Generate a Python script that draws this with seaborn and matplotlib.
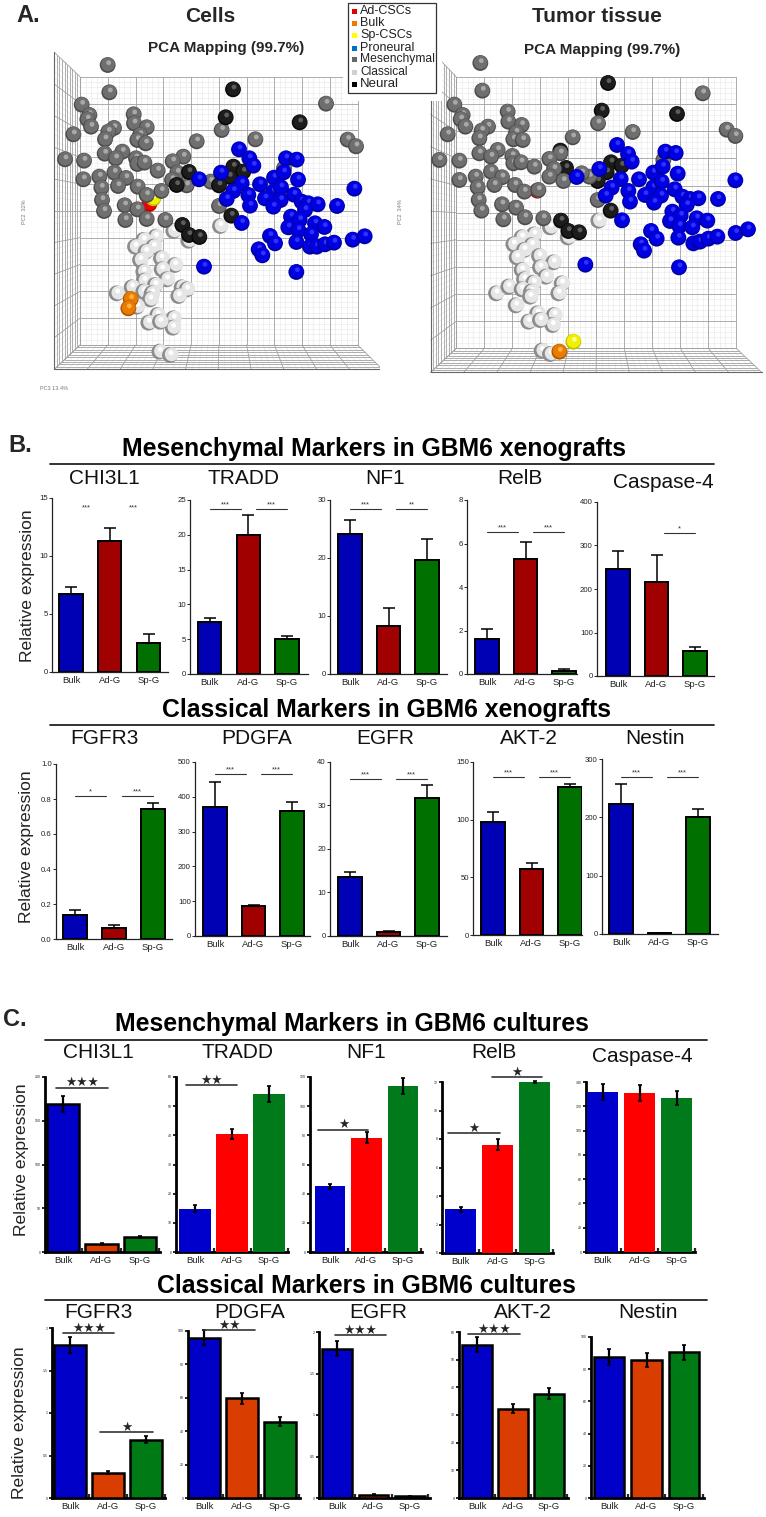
import numpy as np
import pandas as pd
import matplotlib
matplotlib.use("Agg")
import matplotlib.pyplot as plt
from matplotlib.patches import Rectangle
import seaborn as sns

W, H = 766, 1517
GROUPS = ["Bulk", "Ad-G", "Sp-G"]

# --- PCA maps ---
cells_mes_x = [323,328,245,268,262,273,220,342,325,401,402,440,420,315,412,437,590,665,314,367,195,252,347,408,412,433,550,518,473,343,298,250,378,532,516,304,354,413,560,484,440,306,374,412,312,376,440,496,657,632,766,978,1043,1068,852]
cells_mes_y = [195,277,314,345,358,380,403,384,395,343,370,382,405,418,420,430,424,390,461,455,478,482,475,475,492,488,470,484,512,518,530,538,534,518,540,563,558,560,556,573,585,600,616,628,633,660,657,660,618,545,418,311,419,439,505]
cells_neu_x = [699,677,899,567,700,730,688,657,530,694,547,567,598]
cells_neu_y = [268,352,367,516,500,515,530,556,555,647,675,705,711]
cells_pro_x = [717,748,760,858,890,663,597,725,780,822,851,894,1063,700,680,745,750,820,843,795,842,820,882,905,925,953,1011,915,873,899,865,895,945,973,933,725,810,825,889,930,950,975,1002,1058,1094,776,787,612,889]
cells_pro_y = [448,475,497,475,479,518,538,550,553,533,517,539,566,573,597,585,617,575,562,595,600,620,584,605,610,613,618,630,650,660,682,690,670,681,703,669,708,730,726,740,740,733,728,719,709,748,766,800,816]
cells_cla_x = [660,520,565,467,430,405,460,437,420,483,524,430,485,432,500,465,350,395,430,455,545,560,535,450,410,472,445,520,518,480,478,510]
cells_cla_y = [678,693,722,710,720,740,740,755,780,775,795,815,808,842,838,855,880,862,875,880,862,868,888,898,920,945,968,955,983,965,1055,1065]
cells_bulk_x, cells_bulk_y = [392,385], [897,925]
cells_ad_x, cells_ad_y = [448], [612]
cells_sp_x, cells_sp_y = [460], [595]

tumor_mes_x = [301,307,223,248,242,256,203,324,305,383,385,425,408,298,400,428,578,654,298,353,178,238,333,397,400,423,541,508,463,333,287,238,366,522,508,293,343,405,550,433,296,366,408,304,370,435,490,653,628,758,968,1040,1066,850,605,475]
tumor_mes_y = [189,272,314,345,358,380,403,380,392,335,365,375,398,415,418,420,412,370,460,450,480,482,470,468,490,487,460,477,500,515,530,540,532,507,530,562,555,555,543,575,600,613,623,632,658,652,655,600,530,396,280,389,408,480,520,570]
tumor_neu_x = [684,665,891,558,693,725,680,653,541,692,543,565,597]
tumor_neu_y = [249,332,342,504,487,497,517,543,452,632,662,693,697]
tumor_pro_x = [711,744,755,856,887,658,590,722,777,820,848,893,1066,695,677,745,750,820,845,795,843,822,884,907,930,955,1014,920,877,902,870,898,950,982,937,726,813,830,895,940,960,985,1012,1067,1104,782,792,616,897]
tumor_pro_y = [435,462,485,455,459,507,531,537,538,518,500,521,541,563,587,573,605,562,545,585,587,608,568,590,597,595,597,615,635,647,663,678,655,662,682,661,693,716,713,730,725,716,710,699,688,733,752,794,802]
tumor_cla_x = [655,510,563,462,425,400,455,432,410,477,520,425,480,432,497,460,348,385,425,453,545,535,450,407,472,445,522,517,485,510,480]
tumor_cla_y = [662,682,712,703,712,733,735,750,772,768,787,810,802,838,830,848,880,860,868,875,850,880,890,916,940,965,945,975,1052,1062,960]
tumor_bulk_x, tumor_bulk_y = [538], [1055]
tumor_ad_x, tumor_ad_y = [472], [572]
tumor_sp_x, tumor_sp_y = [580], [1025]

LEGEND_NAMES = ["Ad-CSCs", "Bulk", "Sp-CSCs", "Proneural", "Mesenchymal", "Classical", "Neural"]

# --- bar values: [Bulk, Ad-G, Sp-G] and upper end of the error bar ---
xeno_mes_genes = ["CHI3L1", "TRADD", "NF1", "RelB", "Caspase-4"]
xeno_mes_vals = [[6.7, 11.3, 2.5], [7.5, 20, 5], [24.2, 8.2, 19.7], [1.6, 5.3, 0.15], [245, 215, 57]]
xeno_mes_tops = [[7.3, 12.4, 3.3], [8, 22.8, 5.4], [26.6, 11.3, 23.2], [2.05, 6.05, 0.25], [288, 279, 66]]
xeno_mes_ymax = [15, 25, 30, 8, 400]
xeno_mes_step = [5, 5, 10, 2, 100]

xeno_cla_genes = ["FGFR3", "PDGFA", "EGFR", "AKT-2", "Nestin"]
xeno_cla_vals = [[0.14, 0.065, 0.745], [370, 85, 360], [13.6, 1, 31.7], [98, 57, 128], [223, 1.5, 200]]
xeno_cla_tops = [[0.167, 0.078, 0.777], [442, 89, 386], [14.7, 1.2, 34.6], [107, 62, 131], [258, 2, 214]]
xeno_cla_ymax = [1.0, 500, 40, 150, 300]
xeno_cla_step = [0.2, 100, 10, 50, 100]

cult_mes_genes = ["CHI3L1", "TRADD", "NF1", "RelB", "Caspase-4"]
cult_mes_vals = [[169, 9, 17], [14.9, 40.5, 54.2], [45, 78.5, 114], [3.08, 7.6, 12], [132, 131, 127]]
cult_mes_tops = [[178, 10, 18.5], [16, 42.3, 56.8], [46.8, 82, 119.5], [3.25, 7.97, 12.1], [138.6, 137.5, 133]]
cult_mes_ymax = [200, 60, 120, 12, 140]
cult_mes_step = [50, 10, 20, 2, 20]

cult_cla_genes = ["FGFR3", "PDGFA", "EGFR", "AKT-2", "Nestin"]
cult_cla_vals = [[1.796, 0.30, 0.686], [96, 59.6, 45.8], [1.8, 0.04, 0.024], [55.4, 32.3, 37.7], [87.6, 85.8, 90.5]]
cult_cla_tops = [[1.89, 0.32, 0.725], [100.6, 63, 48.4], [1.89, 0.045, 0.03], [58.2, 34, 39.6], [92.4, 90.3, 95]]
cult_cla_ymax = [2, 100, 2, 60, 100]
cult_cla_step = [0.5, 20, 0.5, 10, 20]

# axes frames in pixels: left, top, right, bottom, first bar centre, last bar centre
xeno_mes_box = [(52,498,168,672,71,148.5), (190,500,308,674,209.5,287), (330,500,447,674,350,427),
                (467,500,577,674,487,564), (597,502,714,676,618,695)]
xeno_cla_box = [(56,764,172,939,75,153), (195,762,310,936,215,292), (330,762,447,936,350,427),
                (473,762,582,935,493,570), (602,759,718,934,621,698)]
cult_mes_box = [(45,1077,160,1252,63,140), (176,1077,288,1252,195,269), (310,1077,422,1252,330,403),
                (442,1082,553,1253,461,535), (586,1082,695,1252,603,677)]
cult_cla_box = [(52,1328,165,1498,70,146), (188,1331,300,1498,204,280), (319,1332,430,1498,337,410),
                (459,1332,568,1498,477,549), (591,1337,704,1498,609,684)]

# significance lines: x from, x to, height, stars (None = stars without a line)
xeno_mes_sig = [[(0.4, None, 13.8, "***"), (1.6, None, 13.8, "***")],
                [(0, 0.8, 23.7, "***"), (1.2, 2, 23.7, "***")],
                [(0, 0.8, 28.4, "***"), (1.2, 2, 28.4, "**")],
                [(0, 0.8, 6.53, "***"), (1.2, 2, 6.53, "***")],
                [(1.2, 2, 329, "*")]]
xeno_cla_sig = [[(0, 0.8, 0.817, "*"), (1.2, 2, 0.817, "***")],
                [(0, 0.8, 465, "***"), (1.2, 2, 465, "***")],
                [(0, 0.8, 36.1, "***"), (1.2, 2, 36.1, "***")],
                [(0, 0.8, 137, "***"), (1.2, 2, 137, "***")],
                [(0, 0.8, 269, "***"), (1.2, 2, 269, "***")]]
cult_mes_sig = [[(-0.18, 1.17, 188, "\u2605\u2605\u2605")],
                [(-0.24, 1.14, 57.2, "\u2605\u2605")],
                [(-0.32, 1.05, 83.8, "\u2605")],
                [(-0.35, 1.05, 8.43, "\u2605"), (0.84, 2.2, 12.35, "\u2605")],
                []]
cult_cla_sig = [[(-0.18, 1.16, 1.94, "\u2605\u2605\u2605"), (0.8, 2.18, 0.776, "\u2605")],
                [(0, 1.34, 100.6, "\u2605\u2605")],
                [(-0.05, 1.34, 1.96, "\u2605\u2605\u2605")],
                [(-0.25, 1.2, 59.3, "\u2605\u2605\u2605")],
                []]

DARK_BARS = ["#0000b4", "#a00000", "#007000"]
BRIGHT_BARS = ["#0000cc", "#ff0000", "#007a1a"]
ORANGE_BARS = ["#0000c8", "#d93d00", "#007a14"]
# sphere shades: rim, body, highlight
SHADES = {
    "mes": ("#4c4c4c", "#6f6f6f", "#a8a8a8"),
    "neu": ("#080808", "#1c1c1c", "#5c5c5c"),
    "pro": ("#0000a0", "#0000e0", "#3030ff"),
    "cla": ("#8c8c8c", "#e6e6e6", "#ffffff"),
    "bulk": ("#b05400", "#e87c00", "#ffb040"),
    "ad": ("#c00000", "#f00000", "#ff6060"),
    "sp": ("#c0c000", "#f0f000", "#ffff90"),
}


def px_axes(fig, left, top, right, bottom):
    return fig.add_axes([left / W, 1 - bottom / H, (right - left) / W, (bottom - top) / H])


def draw_box(ax, wall, floor_x, front_y, top_y):
    """Grid of the 3D box: back wall, left wall and floor."""
    x0, x1, y0, y1 = wall
    fx0, fx1 = floor_x
    minor = dict(color="#e6e6e6", lw=0.4, zorder=1)
    major = dict(color="#a0a0a0", lw=0.6, zorder=2)
    for i, t in enumerate(np.linspace(0, 1, 51)):
        style = major if i % 5 == 0 else minor
        ax.plot([x0 + t * (x1 - x0)] * 2, [y0, y1], **style)
        ax.plot([x0, x1], [y0 + t * (y1 - y0)] * 2, **style)
        # left wall
        ax.plot([x0, fx0], [y0 + t * (y1 - y0), top_y + t * (front_y - top_y)], **style)
        wx = fx0 + t * (x0 - fx0)
        if i % 5 == 0:
            ax.plot([wx, wx], [top_y + t * (y0 - top_y), front_y + t * (y1 - front_y)], **style)
        # floor
        ax.plot([x0 + t * (x1 - x0), fx0 + t * (fx1 - fx0)], [y1, front_y], **style)
        if i % 5 == 0:
            fy = y1 + t * (front_y - y1)
            ax.plot([x0 + t * (fx0 - x0), x1 + t * (fx1 - x1)], [fy, fy], **style)
    ax.plot([fx0, fx1], [front_y, front_y], color="#666666", lw=0.8, zorder=2)
    ax.plot([fx0, fx0], [top_y, front_y], color="#666666", lw=0.8, zorder=2)


def spheres_frame(groups):
    """One row per shading layer, in drawing order, so spheres overlap properly."""
    rows = []
    for key, xs, ys in groups:
        rim, body, hi = SHADES[key]
        for x, y in zip(xs, ys):
            rows.append((x, y, rim, "rim"))
            if key == "cla":
                rows.append((x + 5, y - 2, body, "body"))
            else:
                rows.append((x + 1, y - 2, body, "body"))
            rows.append((x + 3, y - 7, hi, "hi"))
    return pd.DataFrame(rows, columns=["pc1", "pc2", "shade", "layer"])


def draw_pca(fig, frame, xlim, groups, wall, floor_x, front_y, top_y):
    ax = px_axes(fig, *frame)
    ax.set_xlim(*xlim)
    ax.set_ylim(1200, 0)
    ax.axis("off")
    draw_box(ax, wall, floor_x, front_y, top_y)
    df = spheres_frame(groups)
    sns.scatterplot(data=df, x="pc1", y="pc2", hue="shade", palette={c: c for c in df["shade"].unique()},
                    size="layer", sizes={"rim": 130, "body": 98, "hi": 12}, linewidth=0, legend=False,
                    ax=ax, zorder=5)
    ax.set_xlabel("")
    ax.set_ylabel("")
    ax.axis("off")


def draw_bars(fig, box, vals, tops, ymax, step, sig, palette, cultured, width, edge_lw, both_ways=False):
    left, top, right, bottom, c0, c2 = box
    ax = px_axes(fig, left, top, right, bottom)
    df = pd.DataFrame({"group": GROUPS, "value": vals})
    sns.barplot(data=df, x="group", y="value", hue="group", palette=palette, order=GROUPS, hue_order=GROUPS,
                width=width, saturation=1, edgecolor="black" if edge_lw else "none", linewidth=edge_lw,
                legend=False, errorbar=None, ax=ax, zorder=3)
    spacing = (c2 - c0) / 2
    ax.set_xlim((left - c0) / spacing, (right - c0) / spacing)
    ax.set_ylim(0, ymax)
    ax.set_xlabel("")
    ax.set_ylabel("")
    lower = 2 * np.array(vals) - np.array(tops) if both_ways else np.array(vals)
    ax.errorbar(range(3), vals, yerr=[np.array(vals) - lower, np.array(tops) - np.array(vals)], fmt="none",
                ecolor="black", elinewidth=1.6 if cultured else 1.1, capsize=1.5 if cultured else 4,
                capthick=1.2 if cultured else 1.1, clip_on=False, zorder=4)
    ax.set_yticks(np.arange(0, ymax + step / 2, step))
    ax.set_xticks(range(3), GROUPS)
    sns.despine(ax=ax)
    if cultured:
        ax.tick_params(axis="y", labelsize=2.5, length=2, width=1.4, pad=1)
        ax.tick_params(axis="x", labelsize=6.8, length=0, pad=3)
        ax.set_xticks([0.5, 1.5, 2.5], minor=True)
        ax.tick_params(axis="x", which="minor", direction="in", length=3, width=1.6)
        for side in ("left", "bottom"):
            ax.spines[side].set_linewidth(2)
            ax.spines[side].set_color("black")
        labels = ax.get_yticks()
        ax.set_yticklabels([f"{v:g}" for v in labels])
    else:
        ax.tick_params(axis="y", labelsize=5.6, length=2, width=0.7, pad=1)
        ax.tick_params(axis="x", labelsize=6.8, length=0, pad=3)
        for side in ("left", "bottom"):
            ax.spines[side].set_linewidth(0.9)
            ax.spines[side].set_color("#222222")
    for label in ax.get_xticklabels() + ax.get_yticklabels():
        label.set_color("#222222")
    for x1, x2, y, stars in sig:
        if x2 is None:
            mid = x1
        else:
            mid = (x1 + x2) / 2
            ax.plot([x1, x2], [y, y], color="#333333", lw=1.2 if cultured else 0.8, clip_on=False, zorder=5)
        if cultured:
            ax.annotate(stars, (mid, y), xytext=(0, 3.5), textcoords="offset points", ha="center", va="center",
                        fontsize=9, family=["DejaVu Sans"], annotation_clip=False, zorder=6)
        else:
            ax.annotate(stars, (mid, y), xytext=(0, 0.5), textcoords="offset points", ha="center", va="bottom",
                        fontsize=5.5, color="#333333", annotation_clip=False, zorder=6)
    return ax


sns.set_theme(style="ticks")
plt.rcParams["font.family"] = ["Liberation Sans", "DejaVu Sans"]

fig = plt.figure(figsize=(W / 100, H / 100), dpi=100, facecolor="white")

cells_groups = [("cla", cells_cla_x, cells_cla_y), ("ad", cells_ad_x, cells_ad_y), ("sp", cells_sp_x, cells_sp_y),
                ("mes", cells_mes_x, cells_mes_y), ("neu", cells_neu_x, cells_neu_y), ("pro", cells_pro_x, cells_pro_y),
                ("bulk", cells_bulk_x, cells_bulk_y)]
tumor_groups = [("cla", tumor_cla_x, tumor_cla_y), ("ad", tumor_ad_x, tumor_ad_y), ("neu", tumor_neu_x, tumor_neu_y),
                ("mes", tumor_mes_x, tumor_mes_y), ("pro", tumor_pro_x, tumor_pro_y), ("sp", tumor_sp_x, tumor_sp_y),
                ("bulk", tumor_bulk_x, tumor_bulk_y)]
draw_pca(fig, (0, 0, 380, 400), (0, 1140), cells_groups, (240, 1073, 230, 1035), (163, 1147), 1108, 157)
draw_pca(fig, (380, 0, 766, 400), (0, 1158), tumor_groups, (229, 1069, 231, 1045), (152, 1145), 1117, 150)

for box, vals, tops, ymax, step, sig in zip(xeno_mes_box, xeno_mes_vals, xeno_mes_tops, xeno_mes_ymax, xeno_mes_step, xeno_mes_sig):
    draw_bars(fig, box, vals, tops, ymax, step, sig, DARK_BARS, False, 0.6, 1.4)
for box, vals, tops, ymax, step, sig in zip(xeno_cla_box, xeno_cla_vals, xeno_cla_tops, xeno_cla_ymax, xeno_cla_step, xeno_cla_sig):
    draw_bars(fig, box, vals, tops, ymax, step, sig, DARK_BARS, False, 0.6, 1.4)
for i, (box, vals, tops, ymax, step, sig) in enumerate(zip(cult_mes_box, cult_mes_vals, cult_mes_tops, cult_mes_ymax, cult_mes_step, cult_mes_sig)):
    # only the first culture panel has outlined, orange bars
    draw_bars(fig, box, vals, tops, ymax, step, sig, ORANGE_BARS if i == 0 else BRIGHT_BARS, True,
              0.84, 1.8 if i == 0 else 0, both_ways=True)
for box, vals, tops, ymax, step, sig in zip(cult_cla_box, cult_cla_vals, cult_cla_tops, cult_cla_ymax, cult_cla_step, cult_cla_sig):
    draw_bars(fig, box, vals, tops, ymax, step, sig, ORANGE_BARS, True, 0.82, 1.8, both_ways=True)

# page layer for headings, rules and the legend, in pixel units
page = fig.add_axes([0, 0, 1, 1], facecolor="none", zorder=20)
page.set_xlim(0, W)
page.set_ylim(H, 0)
page.axis("off")

page.add_patch(Rectangle((343, 0), 99, 101, facecolor="white", edgecolor="none", zorder=1))
page.add_patch(Rectangle((348, 3), 88, 90, facecolor="white", edgecolor="#333333", lw=0.9, zorder=2))
legend_y = [11, 23, 35, 48, 59, 72, 84]
legend_sw = ["#e00000", "#f07800", "#ffff00", "#0070c0", "#666666", "#d0d0d0", "#000000"]
legend_fs = [9, 9, 9, 9, 8.7, 8.6, 9.5]
for name, y, c, fs in zip(LEGEND_NAMES, legend_y, legend_sw, legend_fs):
    page.add_patch(Rectangle((351.5, y - 2.5), 5, 5.5, facecolor=c, edgecolor="none", zorder=3))
    page.text(360, y, name, fontsize=fs, va="center", ha="left", color="#222222", zorder=3)

page.text(16, 15, "A.", fontsize=17, fontweight="bold", va="center")
page.text(8, 445, "B.", fontsize=17, fontweight="bold", va="center")
page.text(3, 1020, "C.", fontsize=17, fontweight="bold", va="center")

page.text(210, 16, "Cells", fontsize=15, fontweight="bold", ha="center", va="center")
page.text(226, 48, "PCA Mapping (99.7%)", fontsize=11, fontweight="bold", ha="center", va="center")
page.text(597, 16, "Tumor tissue", fontsize=15, fontweight="bold", ha="center", va="center")
page.text(602, 50, "PCA Mapping (99.7%)", fontsize=11, fontweight="bold", ha="center", va="center")
page.text(24, 212, "PC2  32%", fontsize=4, color="#777777", rotation=90, ha="center", va="center")
page.text(400, 212, "PC2  34%", fontsize=4, color="#777777", rotation=90, ha="center", va="center")
page.text(54, 388, "PC3 13.4%", fontsize=4, color="#777777", ha="center", va="center")

headings = [("Mesenchymal Markers in GBM6 xenografts", 374, 449, 464, 50, 714),
            ("Classical Markers in GBM6 xenografts", 387, 710, 725, 50, 714),
            ("Mesenchymal Markers in GBM6 cultures", 352, 1024, 1040, 45, 707),
            ("Classical Markers in GBM6 cultures", 366, 1286, 1300, 45, 707)]
for text, x, y, rule_y, r0, r1 in headings:
    page.text(x, y, text, fontsize=17.8, fontweight="bold", ha="center", va="center", color="black")
    page.plot([r0, r1], [rule_y, rule_y], color="#222222", lw=1.3)

gene_titles = [(xeno_mes_genes, [104, 243, 385, 520, 663], [478, 478, 478, 478, 482]),
               (xeno_cla_genes, [104, 257, 385, 529, 655], [738] * 5),
               (cult_mes_genes, [98, 237, 366, 494, 642], [1053, 1053, 1053, 1053, 1057]),
               (cult_cla_genes, [98, 250, 378, 523, 648], [1312] * 5)]
for names, xs, ys in gene_titles:
    for name, x, y in zip(names, xs, ys):
        page.text(x, y, name, fontsize=15, ha="center", va="center", color="#111111")

for x, y in [(28, 586), (27, 847), (22, 1160), (20, 1423)]:
    page.text(x, y, "Relative expression", fontsize=12.6, rotation=90, ha="center", va="center", color="#222222")

fig.savefig("out.png", dpi=100, facecolor="white")
